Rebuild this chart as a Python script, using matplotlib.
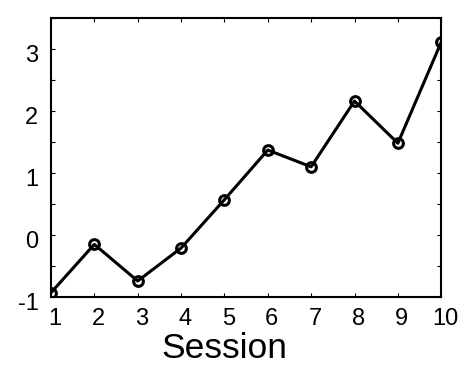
import matplotlib
matplotlib.use("Agg")
import matplotlib.pyplot as plt
import matplotlib.transforms as mtransforms
from matplotlib.ticker import MultipleLocator

# values
session = [1, 2, 3, 4, 5, 6, 7, 8, 9, 10]
score = [-0.93, -0.15, -0.74, -0.21, 0.57, 1.37, 1.10, 2.16, 1.48, 3.11]

plt.rcParams["font.family"] = ["Liberation Sans", "DejaVu Sans"]
plt.rcParams["axes.unicode_minus"] = False

fig = plt.figure(figsize=(4.63, 3.65), dpi=100)
ax = fig.add_axes([0.110, 0.186, 0.843, 0.765])

ax.plot(session, score, color="black", linewidth=2.2, marker="o",
        markersize=7, markerfacecolor="none", markeredgewidth=2.2)

ax.set_xlim(1, 10)
ax.set_ylim(-1, 3.5)
ax.xaxis.set_major_locator(MultipleLocator(1))
ax.yaxis.set_major_locator(MultipleLocator(1))
ax.yaxis.set_minor_locator(MultipleLocator(0.5))

for s in ax.spines.values():
    s.set_linewidth(1.5)

ax.tick_params(which="both", direction="in", top=True, right=True,
               width=0.8, length=3, labelsize=17)
ax.tick_params(axis="x", pad=8)
ax.tick_params(axis="y", pad=9)

# MATLAB-ish tick labels: y labels a bit low, x labels a bit to the right
yshift = mtransforms.ScaledTranslation(0, -4.5 / 100, fig.dpi_scale_trans)
for lab in ax.get_yticklabels():
    lab.set_transform(lab.get_transform() + yshift)
xshift = mtransforms.ScaledTranslation(4 / 100, 0, fig.dpi_scale_trans)
for lab in ax.get_xticklabels():
    lab.set_transform(lab.get_transform() + xshift)

ax.set_xlabel("Session", fontsize=25.5)
ax.xaxis.label.set_verticalalignment("center")
ax.xaxis.set_label_coords(0.444, -0.185)

fig.savefig("out.png", dpi=100)
